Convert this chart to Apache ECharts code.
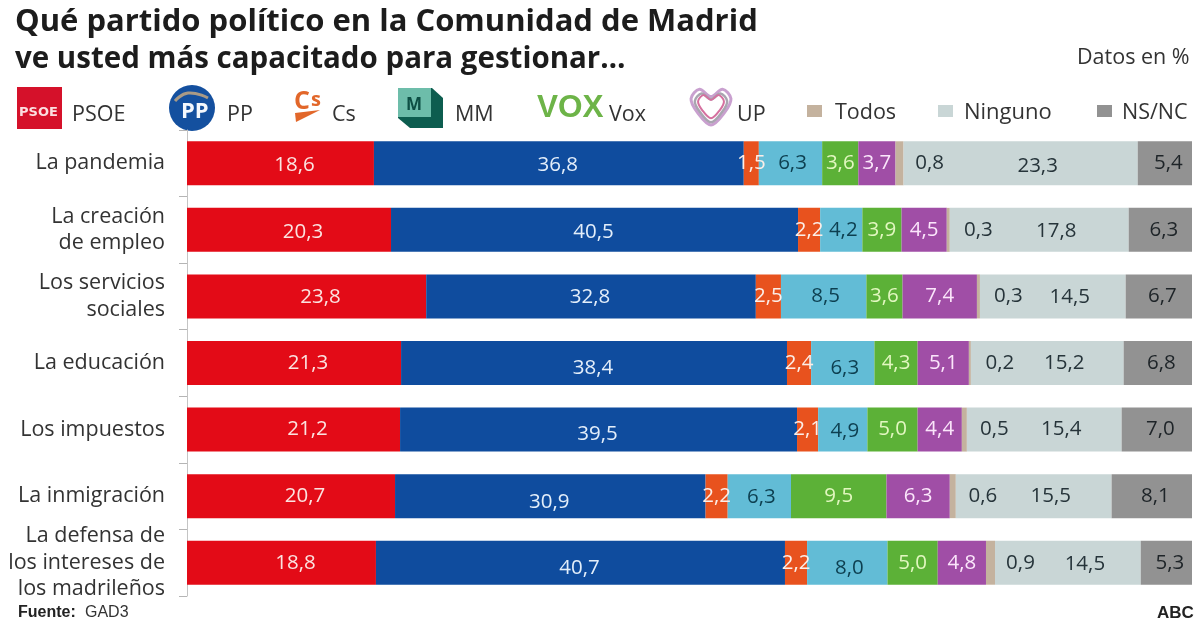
<!DOCTYPE html>
<html><head><meta charset="utf-8">
<style>html,body{margin:0;padding:0;background:#fff}#c{width:1200px;height:630px}</style>
<script src="https://cdn.jsdelivr.net/npm/echarts@6/dist/echarts.min.js"></script>
</head><body><div id="c"></div>
<script>
const categories = ["La pandemia","La creación\nde empleo","Los servicios\nsociales","La educación","Los impuestos","La inmigración","La defensa de\nlos intereses de\nlos madrileños"];
const PSOE = [18.6,20.3,23.8,21.3,21.2,20.7,18.8];
const PP = [36.8,40.5,32.8,38.4,39.5,30.9,40.7];
const Cs = [1.5,2.2,2.5,2.4,2.1,2.2,2.2];
const MM = [6.3,4.2,8.5,6.3,4.9,6.3,8.0];
const Vox = [3.6,3.9,3.6,4.3,5.0,9.5,5.0];
const UP = [3.7,4.5,7.4,5.1,4.4,6.3,4.8];
const Todos = [0.8,0.3,0.3,0.2,0.5,0.6,0.9];
const Ninguno = [23.3,17.8,14.5,15.2,15.4,15.5,14.5];
const NSNC = [5.4,6.3,6.7,6.8,7.0,8.1,5.3];
const F = '"Open Sans", sans-serif';
const fmt = p => p.value.toFixed(1).replace('.', ',');
const s = (name,data,color,labelColor,offset,rowDrop) => ({
  name,type:'bar',stack:'t',barWidth:44,
  data:data.map((v,i)=>({value:v,label:{offset:[(offset||[0])[0],rowDrop?rowDrop[i]:0]}})),
  itemStyle:{color},
  label:{show:true,position:'inside',formatter:fmt,color:labelColor,fontFamily:F,fontSize:20.5,fontWeight:500}
});
const txt=(x,y,t,o)=>({type:'text',x,y,style:Object.assign({text:t,fontFamily:F,fontSize:21.5,fill:'#333',textVerticalAlign:'middle'},o||{})});
const rect=(x,y,w,h,c)=>({type:'rect',shape:{x,y,width:w,height:h},style:{fill:c}});
const heart=(cx,cy,k,stroke,w)=>({type:'polygon',shape:{smooth:0.35,points:[[0,18],[-13,6],[-19,-7],[-11,-16],[0,-9],[11,-16],[19,-7],[13,6]].map(p=>[cx+p[0]*k,cy+p[1]*k])},style:{fill:'none',stroke,lineWidth:w}});
const chart = echarts.init(document.getElementById('c'),null,{renderer:'canvas'});
const catLift={1:'{s|}\n',2:''};
chart.setOption({
  animation:false,backgroundColor:'#fff',
  grid:{left:187,top:130,width:1005,height:466,containLabel:false},
  xAxis:{type:'value',min:0,max:100,show:false},
  yAxis:{type:'category',inverse:true,data:categories,
    axisLine:{show:true,lineStyle:{color:'#c4c4c4',width:1}},
    axisTick:{show:true,length:8,lineStyle:{color:'#b5b5b5'}},
    axisLabel:{color:'#333',fontFamily:F,fontSize:21.5,margin:22,lineHeight:26.5,align:'right'}},
  series:[
    s('PSOE',PSOE,'#e30b17','#fbe3e0',[14],[2,2,1,0,0,0,0]),
    s('PP',PP,'#0f4c9e','#e3eefa',[-1],[2,2,1,5,5,6,5]),
    s('Cs',Cs,'#e8521e','#fbeee8'),
    s('MM',MM,'#62bcd6','#0d3f50',[2],[0,0,0,5,2,1,5]),
    s('Vox',Vox,'#5cb137','#e2f7c0'),
    s('UP',UP,'#a04ea6','#fbe6fb'),
    s('Todos',Todos,'#c4b29e','#26343a',[30]),
    s('Ninguno',Ninguno,'#c9d6d6','#26343a',[17],[3,1,1,0,0,0,1]),
    s('NS/NC',NSNC,'#929292','#1e2428',[3.5])
  ],
  graphic:[
    txt(15,22.5,'Qué partido político en la Comunidad de Madrid',{fontSize:31,fontWeight:'bold',fill:'#1c1c1c'}),
    txt(15,60,'ve usted más capacitado para gestionar…',{fontSize:29.5,fontWeight:'bold',fill:'#1c1c1c'}),
    txt(1077,57.5,'Datos en %'),
    rect(17,87,45,42,'#d5112a'),
    txt(19,113,'PSOE',{fontSize:13,fontWeight:'bold',fill:'#fbdfe0',fontFamily:'"DejaVu Sans"'}),
    txt(72,114.5,'PSOE'),
    {type:'circle',shape:{cx:192,cy:108,r:23},style:{fill:'#14509f'}},
    {type:'polyline',shape:{smooth:0.5,points:[[175,101],[188,93],[208,98]]},style:{fill:'none',stroke:'#a99a86',lineWidth:3}},
    txt(181,112,'PP',{fontSize:22,fontWeight:'bold',fill:'#f4f8fd'}),
    txt(227,114.5,'PP'),
    txt(294,102,'C',{fontSize:25,fontWeight:'bold',fill:'#e2672a'}),
    txt(311,100,'s',{fontSize:20,fontWeight:'bold',fill:'#e2672a'}),
    {type:'polygon',shape:{points:[[295,113],[320,110],[296,122]]},style:{fill:'#e2672a'}},
    txt(332,114.5,'Cs'),
    {type:'polygon',shape:{points:[[398,88],[432,88],[443,98],[443,128],[410,128],[398,118]]},style:{fill:'#0d5d4f'}},
    rect(398,88,33,29,'#6dbdaa'),
    txt(406,105,'M',{fontSize:17,fontWeight:'bold',fill:'#0d4f44'}),
    txt(455,114.5,'MM'),
    txt(537,108,'VOX',{fontSize:31.5,fontWeight:'bold',fill:'#6db448',fontFamily:'"Liberation Sans"'}),
    txt(609,114.5,'Vox'),
    heart(711,106,1.05,'#c9a0cf',3),heart(711,107,0.85,'#a9a5b0',2.5),heart(711,106,0.68,'#d5709f',2),
    txt(737,114.5,'UP'),
    rect(807,105,15,12,'#c4b29e'),txt(835,112.5,'Todos'),
    rect(938,105,15,12,'#c9d6d6'),txt(964,112.5,'Ninguno',{fontSize:22}),
    rect(1097,105,15,12,'#929292'),txt(1122,112.5,'NS/NC'),
    txt(18,613,'Fuente:',{fontSize:16,fontWeight:'bold',fontFamily:'"Liberation Sans"',fill:'#222'}),
    txt(85,613,'GAD3',{fontSize:16,fontFamily:'"Liberation Sans"',fill:'#333'}),
    txt(1157,613,'ABC',{fontSize:17,fontWeight:'bold',fontFamily:'"Liberation Sans"',fill:'#222'})
  ]
});
</script></body></html>
